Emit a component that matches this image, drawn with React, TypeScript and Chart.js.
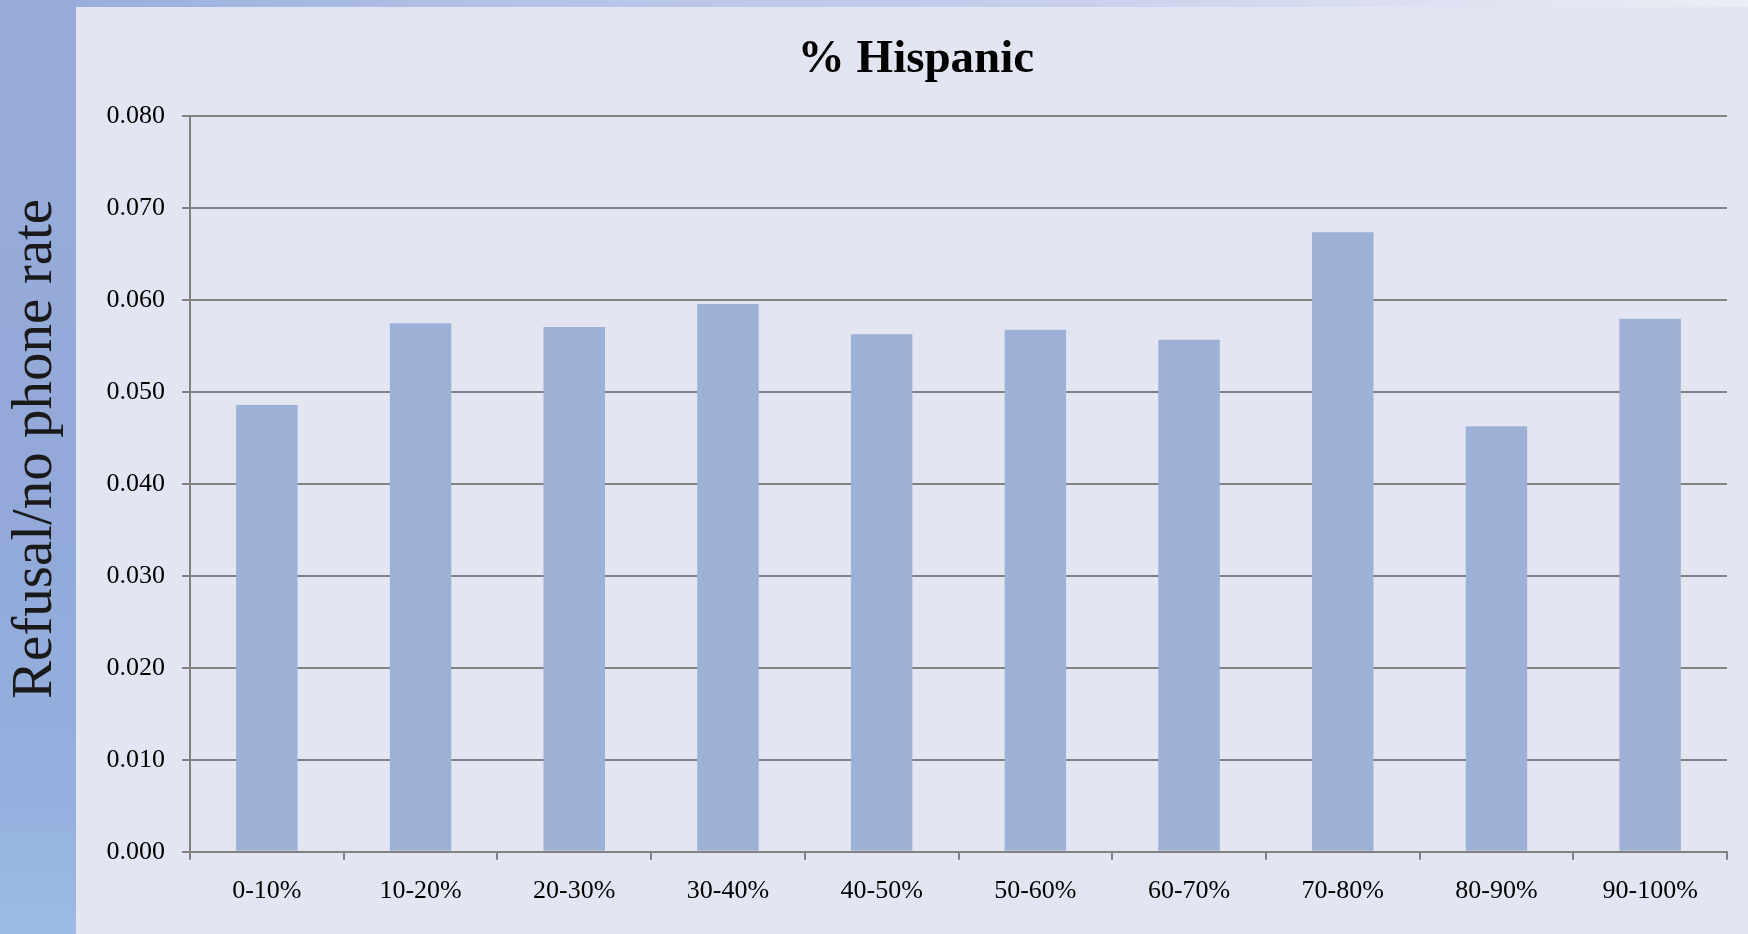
import { useEffect, useRef } from "react";
import { Chart, registerables } from "chart.js";

Chart.register(...registerables);

// Hispanic share of the area, in 10-point bands
const categories = [
  "0-10%",
  "10-20%",
  "20-30%",
  "30-40%",
  "40-50%",
  "50-60%",
  "60-70%",
  "70-80%",
  "80-90%",
  "90-100%",
];

// Refusal / no phone rate per band
const refusalRates = [
  0.0486, 0.0575, 0.0571, 0.0596, 0.0563, 0.0568, 0.0557, 0.0674, 0.0463, 0.058,
];

// Value axis range and step
const yMin = 0;
const yMax = 0.08;
const yStep = 0.01;

const chartTitle = "% Hispanic";
const yAxisTitle = "Refusal/no phone rate";

const SERIF = "'Liberation Serif', 'Times New Roman', serif";
const GRID = "#818181";

export default function App() {
  const canvasRef = useRef<HTMLCanvasElement | null>(null);

  useEffect(() => {
    const canvas = canvasRef.current;
    if (!canvas) return;
    const chart = new Chart(canvas, {
      type: "bar",
      data: {
        labels: categories,
        datasets: [
          {
            label: yAxisTitle,
            data: refusalRates,
            backgroundColor: "#9DB0D5",
            borderWidth: 0,
            categoryPercentage: 1,
            barPercentage: 0.4,
          },
        ],
      },
      options: {
        responsive: false,
        animation: false,
        layout: { padding: { left: 29, right: 21, top: 0, bottom: 11 } },
        plugins: {
          legend: { display: false },
          tooltip: { enabled: false },
          title: {
            display: true,
            text: chartTitle,
            color: "#000",
            font: { family: SERIF, size: 47, weight: "bold", lineHeight: 1.2 },
            padding: { top: 25, bottom: 28 },
          },
        },
        scales: {
          x: {
            grid: {
              display: true,
              drawOnChartArea: false,
              drawTicks: true,
              tickLength: 8,
              offset: true,
              color: GRID,
              lineWidth: 2,
            },
            border: { display: true, color: GRID, width: 2 },
            ticks: {
              color: "#000",
              padding: 16,
              maxRotation: 0,
              font: { family: SERIF, size: 26, lineHeight: 1.2 },
            },
          },
          y: {
            min: yMin,
            max: yMax,
            afterFit: (scale) => {
              // labels + gap + tick mark
              scale.width = 85;
            },
            grid: {
              color: GRID,
              lineWidth: 2,
              drawTicks: true,
              tickLength: 8,
            },
            border: { display: true, color: GRID, width: 2 },
            ticks: {
              stepSize: yStep,
              color: "#000",
              padding: 17,
              font: { family: SERIF, size: 26, lineHeight: 1.2 },
              callback: (v) => Number(v).toFixed(3),
            },
          },
        },
      },
    });
    return () => chart.destroy();
  }, []);

  return (
    <div
      style={{
        position: "fixed",
        left: 0,
        top: 0,
        width: 1748,
        height: 934,
        overflow: "hidden",
        background:
          "linear-gradient(90deg, #94aad9 0px, #9aaedc 76px, #b4c3e7 30%, #c8d0ec 62%, #d8dcf0 76%, #ebeef4 100%)",
      }}
    >
      <div
        style={{
          position: "absolute",
          left: 0,
          top: 0,
          width: 76,
          height: 934,
          background:
            "linear-gradient(180deg, #97acda 0%, #92a9d9 55%, #95b0de 85%, #9dbbe6 100%)",
        }}
      />
      <div
        style={{
          position: "absolute",
          left: 32 - 300,
          top: 449 - 30,
          width: 600,
          height: 60,
          lineHeight: "60px",
          textAlign: "center",
          fontFamily: SERIF,
          fontSize: 57,
          color: "#1a1a1a",
          whiteSpace: "nowrap",
          transform: "rotate(-90deg)",
        }}
      >
        {yAxisTitle}
      </div>
      <canvas
        ref={canvasRef}
        width={1672}
        height={927}
        style={{
          position: "absolute",
          left: 76,
          top: 7,
          width: 1672,
          height: 927,
          background: "#E3E6F2",
        }}
      />
    </div>
  );
}
